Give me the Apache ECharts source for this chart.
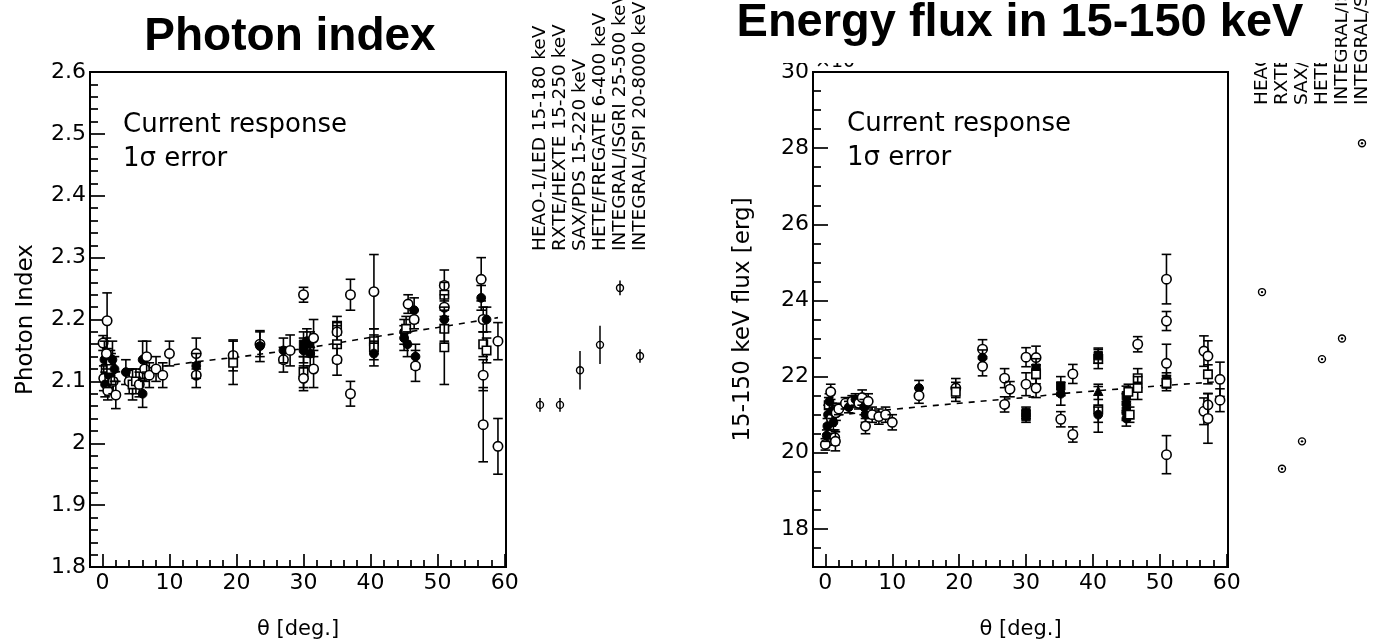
<!DOCTYPE html>
<html>
<head>
<meta charset="utf-8">
<script src="https://cdn.jsdelivr.net/npm/echarts@6/dist/echarts.min.js"></script>
<style>
  html, body { margin: 0; padding: 0; background: #fff; }
  #chart { width: 1381px; height: 644px; }
</style>
</head>
<body>
<div id="chart"></div>
<script>
// ---- Photon index vs. incidence angle ----
const photonTheta = [
  0.1, 0.7, 0.3, 0.5, 0.2, 0.4, 0.8, 1.0, 1.2, 1.5, 1.6, 2.0, 1.3, 0.6, 1.8,
  3.5, 4.0, 4.5, 5.0, 5.5, 6.0, 6.3, 6.0, 6.6, 7.0, 8.0, 9.0, 10.0,
  14.0, 14.0, 14.0, 19.5, 19.5, 23.5, 23.5, 27.0, 27.0, 28.0,
  30.0, 30.0, 30.0, 30.0, 30.0, 30.5, 31.0, 31.0, 31.5, 31.5,
  35.0, 35.0, 35.0, 35.0, 37.0, 37.0, 40.5, 40.5, 40.5, 40.5,
  45.0, 45.0, 45.3, 45.5, 45.6, 46.5, 46.5, 46.7, 46.7,
  51.0, 51.0, 51.0, 51.0, 51.0, 51.0,
  56.5, 56.5, 56.8, 56.8, 56.8, 56.8, 57.3, 57.3, 59.0, 59.0
];
const photonIndex = [
  2.162, 2.198, 2.135, 2.12, 2.105, 2.095, 2.085, 2.11, 2.13, 2.135, 2.1, 2.078, 2.12, 2.145, 2.12,
  2.115, 2.1, 2.095, 2.1, 2.095, 2.135, 2.12, 2.08, 2.14, 2.11, 2.12, 2.11, 2.145,
  2.145, 2.11, 2.125, 2.142, 2.13, 2.16, 2.157, 2.135, 2.15, 2.15,
  2.24, 2.16, 2.15, 2.115, 2.105, 2.165, 2.16, 2.145, 2.17, 2.12,
  2.19, 2.18, 2.16, 2.135, 2.24, 2.08, 2.245, 2.165, 2.155, 2.145,
  2.18, 2.17, 2.185, 2.16, 2.225, 2.215, 2.2, 2.14, 2.125,
  2.255, 2.24, 2.22, 2.2, 2.185, 2.155,
  2.265, 2.235, 2.2, 2.16, 2.11, 2.03, 2.2, 2.15, 2.165, 1.995
];
const photonIndexErr = [
  0.012, 0.045, 0.03, 0.02, 0.02, 0.02, 0.015, 0.02, 0.02, 0.03, 0.02, 0.022, 0.025, 0.025, 0.02,
  0.02, 0.02, 0.025, 0.02, 0.02, 0.03, 0.02, 0.022, 0.025, 0.02, 0.02, 0.02, 0.02,
  0.025, 0.02, 0.02, 0.025, 0.035, 0.02, 0.025, 0.02, 0.02, 0.025,
  0.012, 0.02, 0.02, 0.025, 0.02, 0.02, 0.02, 0.02, 0.03, 0.03,
  0.015, 0.015, 0.03, 0.025, 0.025, 0.02, 0.06, 0.02, 0.02, 0.02,
  0.02, 0.02, 0.02, 0.02, 0.015, 0.02, 0.015, 0.02, 0.025,
  0.025, 0.02, 0.02, 0.02, 0.02, 0.06,
  0.035, 0.02, 0.02, 0.02, 0.025, 0.06, 0.02, 0.02, 0.03, 0.045
];
// o: open circle, s: open square, f: filled circle, q: filled square, t: filled triangle
const photonMarker = [
  'o','o','f','s','o','f','o','f','o','f','o','o','s','o','f',
  'f','o','s','s','o','f','o','f','o','o','o','o','o',
  'o','o','f','o','s','o','f','o','f','o',
  'o','q','f','s','o','f','t','f','o','o',
  's','o','s','o','o','o','o','s','s','f',
  'f','f','s','f','o','f','o','f','o',
  'o','s','o','f','s','s',
  'o','f','o','s','o','o','f','s','o','o'
];

// ---- 15-150 keV energy flux vs. incidence angle ----
const fluxTheta = [
  0.0, 0.2, 0.3, 0.4, 0.5, 0.6, 0.8, 0.9, 1.0, 1.2, 1.4, 1.5, 1.6,
  2.0, 3.0, 3.5, 4.0, 4.5, 5.0, 5.5, 5.8, 6.0, 6.0, 6.4, 7.0, 8.0, 9.0, 10.0,
  14.0, 14.0, 19.5, 19.5, 23.5, 23.5, 23.5, 26.8, 26.8, 27.6,
  30.0, 30.0, 30.0, 30.0, 31.5, 31.5, 31.5, 31.5,
  35.2, 35.2, 35.2, 37.0, 37.0,
  40.8, 40.8, 40.8, 40.8, 40.8,
  45.0, 45.0, 45.0, 45.0, 45.3, 45.5, 46.7, 46.7, 46.7,
  51.0, 51.0, 51.0, 51.0, 51.0, 51.0,
  56.6, 56.6, 57.2, 57.2, 57.2, 57.2, 59.0, 59.0
];
const fluxValue = [
  20.22, 20.45, 20.7, 21.0, 21.25, 21.35, 21.6, 20.9, 21.1, 20.8, 20.4, 20.3, 21.05,
  21.15, 21.3, 21.2, 21.35, 21.4, 21.3, 21.45, 21.2, 21.0, 20.7, 21.35, 21.0, 20.95, 21.0, 20.8,
  21.7, 21.5, 21.7, 21.6, 22.72, 22.5, 22.27, 21.96, 21.27, 21.67,
  22.51, 21.8, 21.05, 20.95, 22.5, 22.22, 22.06, 21.7,
  21.75, 21.55, 20.88, 22.07, 20.48,
  22.46, 22.55, 21.6, 21.14, 21.0,
  21.5, 21.3, 21.1, 20.9, 21.6, 21.0, 22.85, 21.96, 21.7,
  24.56, 23.46, 22.35, 21.9, 21.83, 19.95,
  22.67, 21.09, 22.54, 22.06, 21.26, 20.9, 21.93, 21.38
];
const fluxErr = [
  0.15, 0.15, 0.2, 0.25, 0.2, 0.2, 0.2, 0.2, 0.2, 0.2, 0.2, 0.25, 0.2,
  0.15, 0.15, 0.15, 0.15, 0.15, 0.15, 0.2, 0.2, 0.2, 0.2, 0.2, 0.2, 0.2, 0.2, 0.2,
  0.2, 0.2, 0.25, 0.25, 0.25, 0.2, 0.25, 0.25, 0.2, 0.2,
  0.25, 0.3, 0.15, 0.15, 0.3, 0.25, 0.25, 0.25,
  0.25, 0.3, 0.2, 0.25, 0.2,
  0.25, 0.2, 0.2, 0.6, 0.2,
  0.25, 0.25, 0.25, 0.2, 0.2, 0.2, 0.2, 0.25, 0.3,
  0.65, 0.25, 0.5, 0.2, 0.2, 0.5,
  0.4, 0.35, 0.4, 0.25, 0.3, 0.65, 0.45, 0.3
];
const fluxMarker = [
  'o','f','f','f','s','f','o','o','f','f','o','o','o',
  'o','o','f','o','f','o','o','f','f','o','o','o','o','o','o',
  'f','o','o','s','o','f','o','o','o','o',
  'o','o','q','q','o','q','s','o',
  'q','f','o','o','o',
  's','q','t','s','f',
  'q','f','q','f','s','s','o','s','s',
  'o','o','o','q','s','o',
  'o','o','o','s','o','o','o','o'
];

// ---- expected response curve ----
const trendTheta = [0, 5, 10, 15, 20, 25, 30, 35, 40, 45, 50, 55, 59];
const trendIndex = [2.112, 2.119, 2.126, 2.133, 2.139, 2.146, 2.153, 2.162, 2.171, 2.179, 2.187, 2.196, 2.203];
const trendFlux  = [20.95, 21.05, 21.14, 21.22, 21.3, 21.38, 21.45, 21.55, 21.62, 21.69, 21.76, 21.82, 21.87];

// ---- other instruments ----
const instruments = [
  'HEAO-1/LED 15-180 keV',
  'RXTE/HEXTE 15-250 keV',
  'SAX/PDS 15-220 keV',
  'HETE/FREGATE 6-400 keV',
  'INTEGRAL/ISGRI 25-500 keV',
  'INTEGRAL/SPI 20-8000 keV'
];
const instIndex    = [2.062, 2.062, 2.118, 2.159, 2.251, 2.141];
const instIndexErr = [0.011, 0.011, 0.031, 0.031, 0.012, 0.011];
const instFlux     = [24.22, 19.58, 20.3, 22.46, 23.0, 28.13];

// ---- axis ticks ----
const thetaTicks = [0, 10, 20, 30, 40, 50, 60];
const indexTicks = [1.8, 1.9, 2.0, 2.1, 2.2, 2.3, 2.4, 2.5, 2.6];
const fluxTicks  = [18, 20, 22, 24, 26, 28, 30];

const THETA_MIN = -1.85, THETA_MAX = 60.2;
const FONT = '"DejaVu Sans", sans-serif';
const BLACK = '#000';

// evenly spaced minor ticks between consecutive major ticks (plus outside ones within range)
function minorBetween(major, parts, lo, hi) {
  const out = [];
  const span = major[1] - major[0];
  const step = span / parts;
  for (let v = major[0] - span; v <= major[major.length - 1] + span + 1e-9; v += step) {
    const r = Math.round(v * 1000) / 1000;
    const isMajor = major.some(m => Math.abs(m - r) < 1e-6);
    if (!isMajor && r > lo + 1e-6 && r < hi - 1e-6) out.push(r);
  }
  return out;
}
const thetaMinor = minorBetween(thetaTicks, 5, THETA_MIN, THETA_MAX);
const indexMinor = minorBetween(indexTicks, 5, 1.8, 2.6);
const fluxMinor  = minorBetween(fluxTicks, 4, 17, 30);

const tickLine = { color: BLACK, width: 1.7 };
const labelStyle = { fontFamily: FONT, fontSize: 22, color: BLACK };

function thetaAxes(gridIndex) {
  return [{
    type: 'value', gridIndex, position: 'bottom', min: THETA_MIN, max: THETA_MAX,
    name: 'θ [deg.]', nameLocation: 'middle', nameGap: 52,
    nameTextStyle: { fontFamily: FONT, fontSize: 21, color: BLACK },
    axisLine: { show: false, onZero: false },
    axisTick: { show: true, inside: true, length: 13, customValues: thetaTicks, lineStyle: tickLine },
    axisLabel: Object.assign({ customValues: thetaTicks, margin: 5 }, labelStyle),
    splitLine: { show: false }
  }, {
    type: 'value', gridIndex, position: 'bottom', min: THETA_MIN, max: THETA_MAX,
    axisLine: { show: false, onZero: false },
    axisTick: { show: true, inside: true, length: 7, customValues: thetaMinor, lineStyle: tickLine },
    axisLabel: { show: false }, splitLine: { show: false }
  }];
}
function valueAxes(gridIndex, min, max, major, minor, name, nameGap) {
  return [{
    type: 'value', gridIndex, position: 'left', min, max,
    name, nameLocation: 'middle', nameGap, nameRotate: 90,
    nameTextStyle: { fontFamily: FONT, fontSize: 23, color: BLACK },
    axisLine: { show: false, onZero: false },
    axisTick: { show: true, inside: true, length: 15, customValues: major, lineStyle: tickLine },
    axisLabel: Object.assign({ customValues: major, margin: 4 }, labelStyle),
    splitLine: { show: false }
  }, {
    type: 'value', gridIndex, position: 'left', min, max,
    axisLine: { show: false, onZero: false },
    axisTick: { show: true, inside: true, length: 8, customValues: minor, lineStyle: tickLine },
    axisLabel: { show: false }, splitLine: { show: false }
  }];
}
function instrumentAxis(gridIndex, offset) {
  return {
    type: 'category', gridIndex, position: 'top', offset, data: instruments,
    axisLine: { show: false }, axisTick: { show: false }, splitLine: { show: false },
    axisLabel: { interval: 0, rotate: -90, margin: 2, fontFamily: FONT, fontSize: 18.5, color: BLACK }
  };
}

function markerShape(m, c) {
  const r = 4.7;
  const open = { fill: '#fff', stroke: BLACK, lineWidth: 1.6 };
  const solid = { fill: BLACK, stroke: BLACK, lineWidth: 1 };
  switch (m) {
    case 'f': return { type: 'circle', shape: { cx: c[0], cy: c[1], r: r - 0.3 }, style: solid };
    case 's': return { type: 'rect', shape: { x: c[0] - r + 0.5, y: c[1] - r + 0.5, width: 2 * r - 1, height: 2 * r - 1 }, style: open };
    case 'q': return { type: 'rect', shape: { x: c[0] - r + 0.5, y: c[1] - r + 0.5, width: 2 * r - 1, height: 2 * r - 1 }, style: solid };
    case 't': return { type: 'polygon', shape: { points: [[c[0], c[1] - r - 0.5], [c[0] - r, c[1] + r - 1], [c[0] + r, c[1] + r - 1]] }, style: solid };
    default:  return { type: 'circle', shape: { cx: c[0], cy: c[1], r }, style: open };
  }
}

// vertical error bar with end caps, marker on top
function errorBarRenderer(markers) {
  return function (params, api) {
    const x = api.value(0), v = api.value(1), e = api.value(2);
    const c = api.coord([x, v]);
    const hi = api.coord([x, v + e])[1];
    const lo = api.coord([x, v - e])[1];
    const cap = 4.8;
    const s = { stroke: BLACK, lineWidth: 1.6, fill: null };
    return {
      type: 'group',
      children: [
        { type: 'line', shape: { x1: c[0], y1: hi, x2: c[0], y2: lo }, style: s },
        { type: 'line', shape: { x1: c[0] - cap, y1: hi, x2: c[0] + cap, y2: hi }, style: s },
        { type: 'line', shape: { x1: c[0] - cap, y1: lo, x2: c[0] + cap, y2: lo }, style: s },
        markerShape(markers[params.dataIndex], c)
      ]
    };
  };
}
// small open circle crossed by its error line
function instIndexRenderer(params, api) {
  const x = api.value(0), v = api.value(1), e = api.value(2);
  const c = api.coord([x, v]);
  const hi = api.coord([x, v + e])[1];
  const lo = api.coord([x, v - e])[1];
  return {
    type: 'group',
    children: [
      { type: 'circle', shape: { cx: c[0], cy: c[1], r: 3.5 }, style: { fill: null, stroke: BLACK, lineWidth: 1.4 } },
      { type: 'line', shape: { x1: c[0], y1: hi, x2: c[0], y2: lo }, style: { stroke: BLACK, lineWidth: 1.5 } }
    ]
  };
}
// small open circle with a dot in the centre
function instFluxRenderer(params, api) {
  const c = api.coord([api.value(0), api.value(1)]);
  return {
    type: 'group',
    children: [
      { type: 'circle', shape: { cx: c[0], cy: c[1], r: 3.5 }, style: { fill: '#fff', stroke: BLACK, lineWidth: 1.4 } },
      { type: 'circle', shape: { cx: c[0], cy: c[1], r: 1.2 }, style: { fill: BLACK } }
    ]
  };
}

const photonRows = photonTheta.map((t, i) => [t, photonIndex[i], photonIndexErr[i]]);
const fluxRows = fluxTheta.map((t, i) => [t, fluxValue[i], fluxErr[i]]);
const trendIndexRows = trendTheta.map((t, i) => [t, trendIndex[i]]);
const trendFluxRows = trendTheta.map((t, i) => [t, trendFlux[i]]);
const instIndexRows = instruments.map((n, i) => [n, instIndex[i], instIndexErr[i]]);
const instFluxRows = instruments.map((n, i) => [n, instFlux[i]]);

const frame = { show: true, borderColor: BLACK, borderWidth: 2, backgroundColor: 'transparent', outerBoundsMode: 'none' };

const dashed = { color: BLACK, width: 1.6, type: [6, 6] };

const option = {
  animation: false,
  backgroundColor: '#fff',
  grid: [
    Object.assign({ left: 90, top: 72, width: 416, height: 495 }, frame),
    { left: 530, top: 72, width: 120, height: 495, outerBoundsMode: 'none' },
    Object.assign({ left: 813, top: 72, width: 415, height: 495 }, frame),
    { left: 1252, top: 72, width: 120, height: 495, outerBoundsMode: 'none' }
  ],
  xAxis: [
    ...thetaAxes(0),
    instrumentAxis(1, -181),
    ...thetaAxes(2),
    instrumentAxis(3, -35)
  ],
  yAxis: [
    ...valueAxes(0, 1.8, 2.6, indexTicks, indexMinor, 'Photon Index', 52),
    { type: 'value', gridIndex: 1, min: 1.8, max: 2.6, show: false },
    ...valueAxes(2, 17, 30, fluxTicks, fluxMinor, '15-150 keV flux [erg]', 58),
    { type: 'value', gridIndex: 3, min: 17, max: 30, show: false }
  ],
  series: [
    { type: 'line', xAxisIndex: 0, yAxisIndex: 0, data: trendIndexRows, showSymbol: false, lineStyle: dashed, z: 1 },
    { type: 'custom', xAxisIndex: 0, yAxisIndex: 0, data: photonRows, renderItem: errorBarRenderer(photonMarker), encode: { x: 0, y: 1 }, z: 2 },
    { type: 'custom', xAxisIndex: 2, yAxisIndex: 2, data: instIndexRows, renderItem: instIndexRenderer, encode: { x: 0, y: 1 }, z: 2 },
    { type: 'line', xAxisIndex: 3, yAxisIndex: 3, data: trendFluxRows, showSymbol: false, lineStyle: dashed, z: 1 },
    { type: 'custom', xAxisIndex: 3, yAxisIndex: 3, data: fluxRows, renderItem: errorBarRenderer(fluxMarker), encode: { x: 0, y: 1 }, z: 2 },
    { type: 'custom', xAxisIndex: 5, yAxisIndex: 5, data: instFluxRows, renderItem: instFluxRenderer, encode: { x: 0, y: 1 }, z: 2 }
  ],
  graphic: [
    { type: 'text', x: 815, y: 72, z: 50,
      style: { text: '×10⁻¹⁰', font: '19px ' + FONT, fill: BLACK, align: 'left', verticalAlign: 'bottom' } },
    { type: 'rect', shape: { x: 722, y: 0, width: 613, height: 63 }, style: { fill: '#fff' }, z: 100 },
    { type: 'text', x: 290, y: 37, z: 101,
      style: { text: 'Photon index', font: 'bold 46px "Liberation Sans", Arial, sans-serif', fill: BLACK, align: 'center', verticalAlign: 'middle' } },
    { type: 'text', x: 1020, y: 23, z: 101,
      style: { text: 'Energy flux in 15-150 keV', font: 'bold 47px "Liberation Sans", Arial, sans-serif', fill: BLACK, align: 'center', verticalAlign: 'middle' } },
    { type: 'text', x: 123, y: 125, z: 10,
      style: { text: 'Current response', font: '26px ' + FONT, fill: BLACK, align: 'left', verticalAlign: 'middle' } },
    { type: 'text', x: 123, y: 159, z: 10,
      style: { text: '1σ error', font: '26px ' + FONT, fill: BLACK, align: 'left', verticalAlign: 'middle' } },
    { type: 'text', x: 847, y: 124, z: 10,
      style: { text: 'Current response', font: '26px ' + FONT, fill: BLACK, align: 'left', verticalAlign: 'middle' } },
    { type: 'text', x: 847, y: 158, z: 10,
      style: { text: '1σ error', font: '26px ' + FONT, fill: BLACK, align: 'left', verticalAlign: 'middle' } }
  ]
};

const chart = echarts.init(document.getElementById('chart'), null, { renderer: 'canvas' });
chart.setOption(option);
</script>
</body>
</html>
